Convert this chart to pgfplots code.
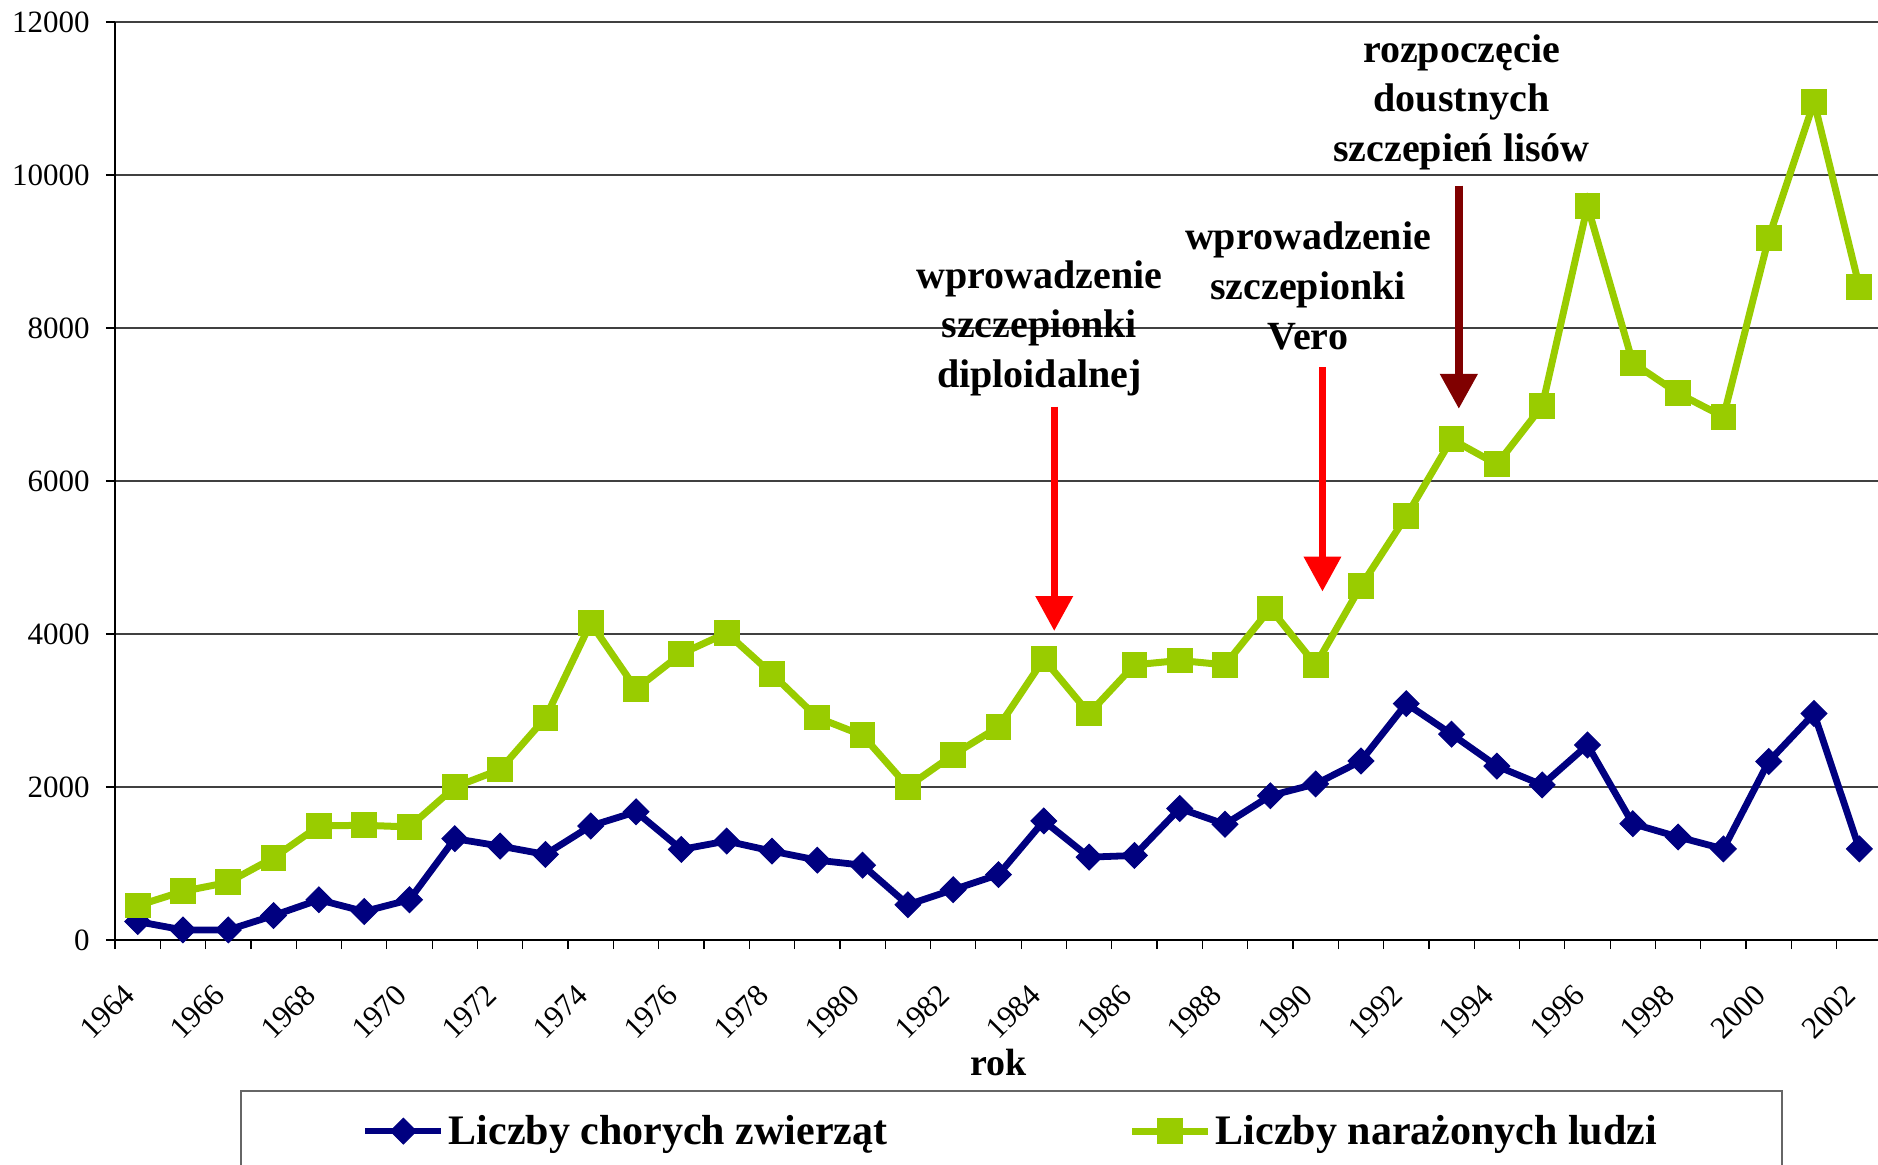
\documentclass[border=0pt]{standalone}
\usepackage{fontspec}
\setmainfont{Liberation Serif}
\usepackage{pgfplots}
\pgfplotsset{compat=1.18}
\usetikzlibrary{arrows.meta}
\definecolor{cnavy}{RGB}{0,0,128}
\definecolor{clime}{RGB}{153,204,0}
\definecolor{cred}{RGB}{255,0,0}
\definecolor{cdred}{RGB}{128,0,0}
\begin{document}
\begin{tikzpicture}[anno/.style={font=\fontsize{20}{24.85}\selectfont\bfseries, align=center, anchor=base, inner sep=0pt}]
\begin{axis}[
  scale only axis,
  width=883.5pt, height=459pt,
  xmin=-0.5, xmax=38.5, ymin=0, ymax=12000,
  clip=false,
  axis x line*=bottom, axis y line*=left,
  axis line style={line width=0.6pt, black},
  ytick={0,2000,4000,6000,8000,10000,12000},
  yticklabels={0,2000,4000,6000,8000,10000,12000},
  xtick={-0.5,1.5,3.5,5.5,7.5,9.5,11.5,13.5,15.5,17.5,19.5,21.5,23.5,25.5,27.5,29.5,31.5,33.5,35.5,37.5},
  xticklabels={1964,1966,1968,1970,1972,1974,1976,1978,1980,1982,1984,1986,1988,1990,1992,1994,1996,1998,2000,2002},
  minor xtick={0.5,2.5,4.5,6.5,8.5,10.5,12.5,14.5,16.5,18.5,20.5,22.5,24.5,26.5,28.5,30.5,32.5,34.5,36.5,38.5},
  tick align=outside,
  major tick length=4.5pt,
  minor tick length=4.5pt,
  tick style={line width=0.6pt, black},
  ymajorgrids, grid style={line width=0.6pt, black!75},
  yticklabel style={font=\fontsize{15.5}{18}\selectfont, anchor=east, inner sep=0pt, xshift=-8pt},
  xticklabel style={font=\fontsize{15.5}{18}\selectfont, xshift=7.15pt, yshift=-20.3pt, rotate=45, anchor=east, inner sep=0pt},
  xlabel={rok},
  xlabel style={font=\fontsize{19}{22}\selectfont\bfseries, at={(axis description cs:0.5,-0.1481)}, anchor=base},
  legend columns=2,
  legend cell align=left,
  legend image code/.code={\draw[mark repeat=2,mark phase=2,#1] plot coordinates {(0pt,0pt) (19pt,0pt) (38pt,0pt)};},
  legend style={at={(0.07046,-0.1634)}, anchor=north west, draw=black!60, line width=1pt,
    font=\fontsize{21}{25}\selectfont\bfseries, inner xsep=60.75pt, inner ysep=10pt,
    nodes={inner sep=2pt},
    /tikz/every even column/.append style={column sep=118.75pt}},
]
\addplot[cnavy, line width=3.4pt, mark=square*, mark size=4.55pt, mark options={rotate=45, line width=0.5pt, solid}] coordinates {
(0,241) (1,132) (2,132) (3,320) (4,526) (5,373) (6,526) (7,1325) (8,1228) (9,1119)
(10,1491) (11,1676) (12,1184) (13,1294) (14,1162) (15,1044) (16,978) (17,461) (18,658) (19,855)
(20,1557) (21,1083) (22,1105) (23,1720) (24,1513) (25,1886) (26,2040) (27,2340) (28,3090) (29,2690)
(30,2273) (31,2027) (32,2549) (33,1520) (34,1347) (35,1191) (36,2334) (37,2961) (38,1191)};
\addlegendentry{Liczby chorych zwierząt}
\addplot[clime, line width=3.5pt, mark=square*, mark size=6.2pt, mark options={line width=0.5pt, solid}] coordinates {
(0,450) (1,636) (2,754) (3,1075) (4,1491) (5,1500) (6,1478) (7,2000) (8,2228) (9,2904)
(10,4143) (11,3281) (12,3742) (13,4014) (14,3479) (15,2908) (16,2676) (17,2005) (18,2421) (19,2786)
(20,3672) (21,2961) (22,3597) (23,3654) (24,3597) (25,4334) (26,3597) (27,4628) (28,5540) (29,6545)
(30,6218) (31,6980) (32,9594) (33,7546) (34,7146) (35,6840) (36,9179) (37,10957) (38,8539)};
\addlegendentry{Liczby narażonych ludzi}
\draw[cred, line width=3.5pt, -{Triangle[width=18pt,length=17.5pt]}] (axis cs:20.23,6973) -- (axis cs:20.23,4039);
\draw[cred, line width=3.5pt, -{Triangle[width=18pt,length=17.5pt]}] (axis cs:26.15,7489) -- (axis cs:26.15,4555);
\draw[cdred, line width=3.8pt, -{Triangle[width=18pt,length=17.5pt]}] (axis cs:29.16,9860) -- (axis cs:29.16,6943);
\node[anno] at (axis cs:19.9,7220) {wprowadzenie\\szczepionki\\diploidalnej};
\node[anno] at (axis cs:25.83,7725) {wprowadzenie\\szczepionki\\Vero};
\node[anno] at (axis cs:29.22,10175) {rozpoczęcie\\doustnych\\szczepień lisów};
\end{axis}
\pgfresetboundingbox
\path[use as bounding box] (-57.5pt,-112pt) rectangle (881.5pt,470pt);
\end{tikzpicture}
\end{document}
